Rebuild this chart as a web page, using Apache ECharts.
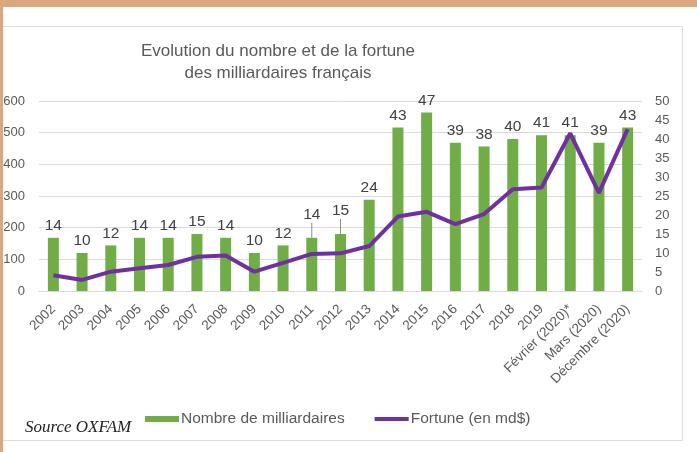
<!DOCTYPE html>
<html>
<head>
<meta charset="utf-8">
<script src="https://cdn.jsdelivr.net/npm/echarts@6/dist/echarts.min.js"></script>
<style>
  html, body { margin: 0; padding: 0; background: #fff; }
  .wrap { position: relative; width: 697px; height: 452px; overflow: hidden; }
  .box { position: absolute; left: -2px; top: 26px; width: 685px; height: 415px; border: 1px solid #dcdcdc; box-sizing: border-box; }
  #chart { position: absolute; left: 0; top: 0; width: 697px; height: 452px; }
  .band-top { position: absolute; left: 0; top: 0; width: 697px; height: 7px; background: #d9a87e; }
  .band-left { position: absolute; left: 0; top: 0; width: 3px; height: 452px; background: #d9a87e; }
  .source { position: absolute; left: 25px; top: 417px; font: italic 17px "Liberation Serif", serif; color: #222; }
</style>
</head>
<body>
<div class="wrap">
  <div class="box"></div>
  <div id="chart"></div>
  <div class="source">Source OXFAM</div>
  <div class="band-top"></div>
  <div class="band-left"></div>
</div>
<script>
  // catégories (années)
  const categories = ['2002', '2003', '2004', '2005', '2006', '2007', '2008', '2009', '2010', '2011',
    '2012', '2013', '2014', '2015', '2016', '2017', '2018', '2019',
    'Février (2020)*', 'Mars (2020)', 'Décembre (2020)'];
  // nombre de milliardaires (axe de droite)
  const nombre = [14, 10, 12, 14, 14, 15, 14, 10, 12, 14, 15, 24, 43, 47, 39, 38, 40, 41, 41, 39, 43];
  // fortune en md$ (axe de gauche)
  const fortune = [50, 35, 61, 72, 82, 108, 112, 61, 89, 117, 119, 142, 235, 250, 211, 243, 321, 327, 498, 310, 511];
  // étiquettes décalées avec trait de rappel
  const shifted = [9, 10];

  const chart = echarts.init(document.getElementById('chart'));
  const grey = '#595959';

  const option = {
    animation: false,
    title: {
      text: 'Evolution du nombre et de la fortune\ndes milliardaires français',
      left: 273,
      top: 35,
      textAlign: 'center',
      textStyle: { fontFamily: 'Liberation Sans', fontSize: 17, fontWeight: 'normal', color: grey, lineHeight: 22 }
    },
    grid: { left: 39, right: 55, top: 101, bottom: 161 },
    legend: {
      left: 140,
      top: 406,
      itemGap: 30,
      itemWidth: 34,
      itemHeight: 6,
      textStyle: { fontFamily: 'Liberation Sans', fontSize: 15.5, color: grey, padding: [0, 0, 0, -3] },
      data: [
        { name: 'Nombre de milliardaires', icon: 'rect', itemStyle: { color: '#70ad47' } },
        { name: 'Fortune (en md$)', icon: 'path://M0,0h34v4h-34z', itemStyle: { color: '#7030a0' } }
      ]
    },
    xAxis: {
      type: 'category',
      data: categories,
      axisLine: { lineStyle: { color: '#d9d9d9' } },
      axisTick: { show: false },
      axisLabel: { rotate: 45, interval: 0, margin: 16, fontFamily: 'Liberation Sans', fontSize: 13.5, color: grey }
    },
    yAxis: [
      {
        type: 'value', min: 0, max: 600, interval: 100,
        axisLine: { show: false }, axisTick: { show: false },
        axisLabel: { margin: 14, fontFamily: 'Liberation Sans', fontSize: 13, color: grey },
        splitLine: { lineStyle: { color: '#d9d9d9' } }
      },
      {
        type: 'value', min: 0, max: 50, interval: 5,
        axisLine: { show: false }, axisTick: { show: false },
        axisLabel: { margin: 13, fontFamily: 'Liberation Sans', fontSize: 13, color: grey },
        splitLine: { show: false }
      }
    ],
    series: [
      {
        name: 'Nombre de milliardaires',
        type: 'bar',
        yAxisIndex: 1,
        barWidth: 11,
        itemStyle: { color: '#70ad47' },
        label: {
          show: true, position: 'top', distance: 4,
          fontFamily: 'Liberation Sans', fontSize: 15.5, color: '#404040'
        },
        labelLine: { show: true, lineStyle: { color: '#8c8c8c', width: 1 } },
        labelLayout: function (p) {
          return shifted.indexOf(p.dataIndex) >= 0 ? { dy: -11 } : {};
        },
        data: nombre.map((v, i) => shifted.indexOf(i) >= 0
          ? { value: v, labelLine: { show: true } }
          : { value: v, labelLine: { show: false } }),
        z: 2
      },
      {
        name: 'Fortune (en md$)',
        type: 'line',
        yAxisIndex: 0,
        data: fortune,
        symbol: 'none',
        lineStyle: { color: '#7030a0', width: 4 },
        itemStyle: { color: '#7030a0' },
        z: 3
      }
    ]
  };
  chart.setOption(option);
</script>
</body>
</html>
